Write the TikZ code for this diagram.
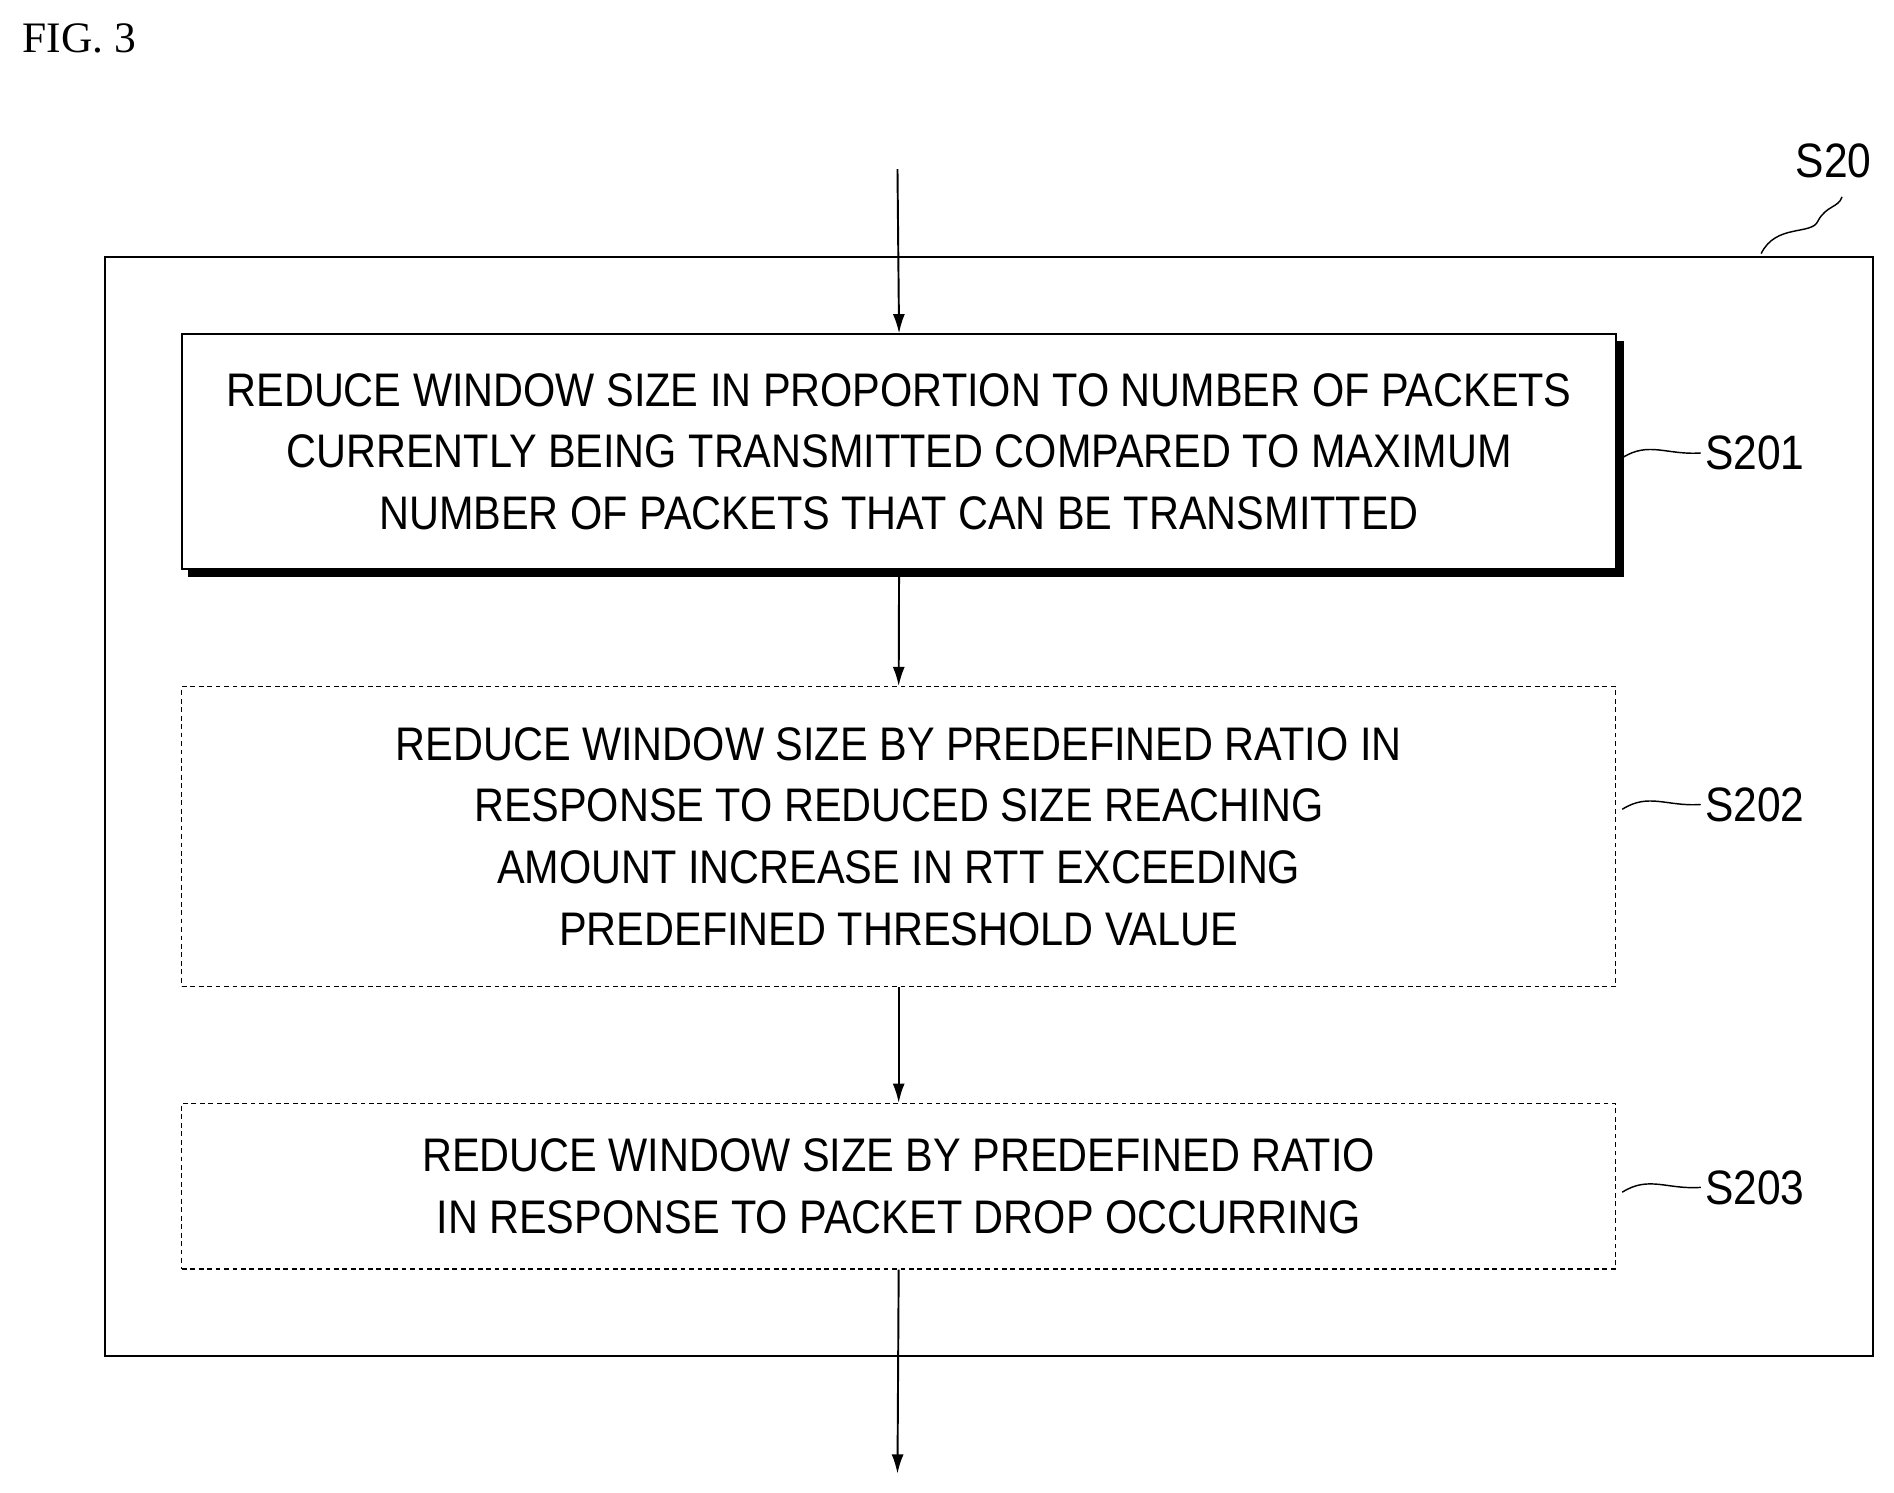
\documentclass[tikz,border=0pt]{standalone}
\usepackage{fontspec}
\usetikzlibrary{arrows.meta}
\setmainfont{Liberation Serif}
\newfontfamily\cond[FakeStretch=0.88]{Liberation Sans}
\begin{document}
\begin{tikzpicture}[x=1pt,y=-1pt,
 box/.style={draw,line width=1.6pt,minimum width=1187pt,align=center,font=\cond\fontsize{39}{51}\selectfont,inner sep=0pt},
 dbox/.style={box,dashed,line width=1pt,dash pattern=on 4pt off 3pt},
 arr/.style={-{Latex[length=16pt,width=10pt]},line width=1.6pt},
 lab/.style={font=\cond\fontsize{40}{48}\selectfont},
 sq/.style={line width=1.2pt}]
\useasboundingbox (0,0) rectangle (1568,1236);
\node[anchor=west,font=\fontsize{36}{40}\selectfont] (fig) at (15,32) {FIG. 3};
\node[draw,line width=1.8pt,minimum width=1464pt,minimum height=910pt,anchor=north west] (outer) at (86,212) {};
\node[lab] (s20) at (1518,133) {S20};
\draw[sq] (1458,210) .. controls (1470,185) and (1500,195) .. (1505,183) .. controls (1512,170) and (1522,172) .. (1525,163);
\coordinate (top) at (743,140);
\node[box,minimum height=194pt,anchor=north west,fill=black] (b1shadow) at (156,282) {};
\node[box,minimum height=194pt,anchor=north west,fill=white] (b1) at (150,276) {REDUCE WINDOW SIZE IN PROPORTION TO NUMBER OF PACKETS\\CURRENTLY BEING TRANSMITTED COMPARED TO MAXIMUM\\NUMBER OF PACKETS THAT CAN BE TRANSMITTED};
\node[dbox,minimum height=248pt,anchor=north west] (b2) at (150,568) {REDUCE WINDOW SIZE BY PREDEFINED RATIO IN\\RESPONSE TO REDUCED SIZE REACHING\\AMOUNT INCREASE IN RTT EXCEEDING\\PREDEFINED THRESHOLD VALUE};
\node[dbox,minimum height=137pt,anchor=north west] (b3) at (150,913) {REDUCE WINDOW SIZE BY PREDEFINED RATIO\\IN RESPONSE TO PACKET DROP OCCURRING};
\coordinate (bot) at (743,1220);
\draw[arr] (top) -- (b1.north);
\draw[arr] (b1shadow.south -| b1.south) -- (b2.north);
\draw[arr] (b2.south) -- (b3.north);
\draw[arr] (b3.south) -- (bot);
\foreach \n/\t/\y in {b1/S201/375,b2/S202/666,b3/S203/983}{
 \node[lab,anchor=west] (l\n) at (1408,\y) {\t};
 \draw[sq] (1343,\y+4) .. controls (1365,\y-10) and (1380,\y+2) .. (l\n.west);
}
\end{tikzpicture}
\end{document}
